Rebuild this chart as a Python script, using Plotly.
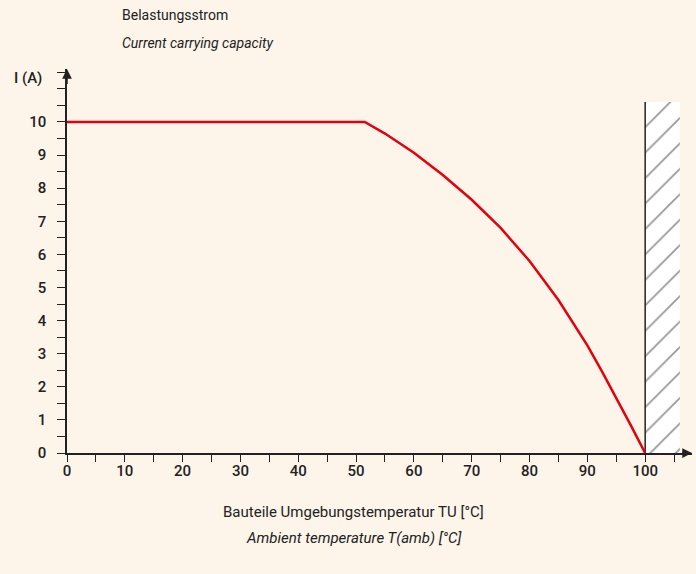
import plotly.graph_objects as go

# Data
temp_c = [0, 51.5, 55, 60, 65, 70, 75, 80, 85, 90, 92.5, 95, 97.5, 100]
current_a = [10, 10, 9.65, 9.07, 8.4, 7.65, 6.8, 5.8, 4.62, 3.25, 2.47, 1.67, 0.84, 0]
x_ticks = [0, 10, 20, 30, 40, 50, 60, 70, 80, 90, 100]
y_ticks = [0, 1, 2, 3, 4, 5, 6, 7, 8, 9, 10]
hatch_x = [100, 106]
hatch_top = 10.6

BG = "#fdf5ea"
INK = "#222222"
FONT = "Roboto, sans-serif"

fig = go.Figure()

# hatched forbidden zone
fig.add_trace(go.Scatter(
    x=[hatch_x[0], hatch_x[1], hatch_x[1], hatch_x[0], hatch_x[0]],
    y=[0, 0, hatch_top, hatch_top, 0],
    mode="lines", line=dict(width=0), fill="toself",
    fillcolor="white",
    fillpattern=dict(shape="/", bgcolor="white", fgcolor="#333333", size=18, solidity=0.1),
    hoverinfo="skip", showlegend=False))
fig.add_trace(go.Scatter(
    x=[hatch_x[0], hatch_x[0]], y=[0, hatch_top], mode="lines",
    line=dict(color=INK, width=1.5), hoverinfo="skip", showlegend=False))

# derating curve
fig.add_trace(go.Scatter(
    x=temp_c, y=current_a, mode="lines",
    line=dict(color="#e3000f", width=2.5),
    showlegend=False))

xmax = 108.1
ymax = 11.6

fig.update_layout(
    width=696, height=574,
    margin=dict(l=67, r=4, t=69, b=121),
    paper_bgcolor=BG, plot_bgcolor=BG,
    font=dict(family=FONT, color=INK, size=15),
    xaxis=dict(range=[0, xmax], tickvals=x_ticks, showgrid=False, zeroline=False,
               showline=True, linecolor=INK, linewidth=1.5,
               ticks="outside", ticklen=7, tickcolor=INK, tickwidth=1.2,
               minor=dict(dtick=5, ticks="outside", ticklen=7, tickcolor=INK, tickwidth=1.2),
               tickfont=dict(size=15, color=INK, weight=500), ticklabelstandoff=-4),
    yaxis=dict(range=[0, ymax], tickvals=y_ticks, showgrid=False, zeroline=False,
               showline=True, linecolor=INK, linewidth=1.5,
               ticks="outside", ticklen=8, tickcolor=INK, tickwidth=1.2,
               minor=dict(dtick=0.5, ticks="outside", ticklen=8, tickcolor=INK, tickwidth=1.2),
               tickfont=dict(size=15, color=INK, weight=500), ticklabelstandoff=8),
)

# axis arrows
fig.add_annotation(x=0, y=ymax, ax=0, ay=ymax - 0.5, xref="x", yref="y", axref="x", ayref="y",
                   showarrow=True, arrowhead=2, arrowsize=1.3, arrowwidth=1.5, arrowcolor=INK, text="")
fig.add_annotation(x=xmax, y=0, ax=xmax - 2, ay=0, xref="x", yref="y", axref="x", ayref="y",
                   showarrow=True, arrowhead=2, arrowsize=1.3, arrowwidth=1.5, arrowcolor=INK, text="")

# texts
fig.add_annotation(text="Belastungsstrom", x=0.085, y=1.141, xref="paper", yref="paper",
                   xanchor="left", yanchor="middle", showarrow=False, font=dict(size=14))
fig.add_annotation(text="<i>Current carrying capacity</i>", x=0.085, y=1.068, xref="paper", yref="paper",
                   xanchor="left", yanchor="middle", showarrow=False, font=dict(size=14))
fig.add_annotation(text="I (A)", x=-0.088, y=0.977, xref="paper", yref="paper",
                   xanchor="left", yanchor="middle", showarrow=False, font=dict(size=15, weight=500))
fig.add_annotation(text="Bauteile Umgebungstemperatur TU [°C]", x=0.458, y=-0.154, xref="paper", yref="paper",
                   xanchor="center", yanchor="middle", showarrow=False, font=dict(size=15))
fig.add_annotation(text="<i>Ambient temperature T(amb) [°C]</i>", x=0.458, y=-0.221, xref="paper", yref="paper",
                   xanchor="center", yanchor="middle", showarrow=False, font=dict(size=15))

fig.write_html("out.html", config={"displayModeBar": False},
               post_script="document.body.style.margin='0px';document.body.style.background='" + BG + "';")
